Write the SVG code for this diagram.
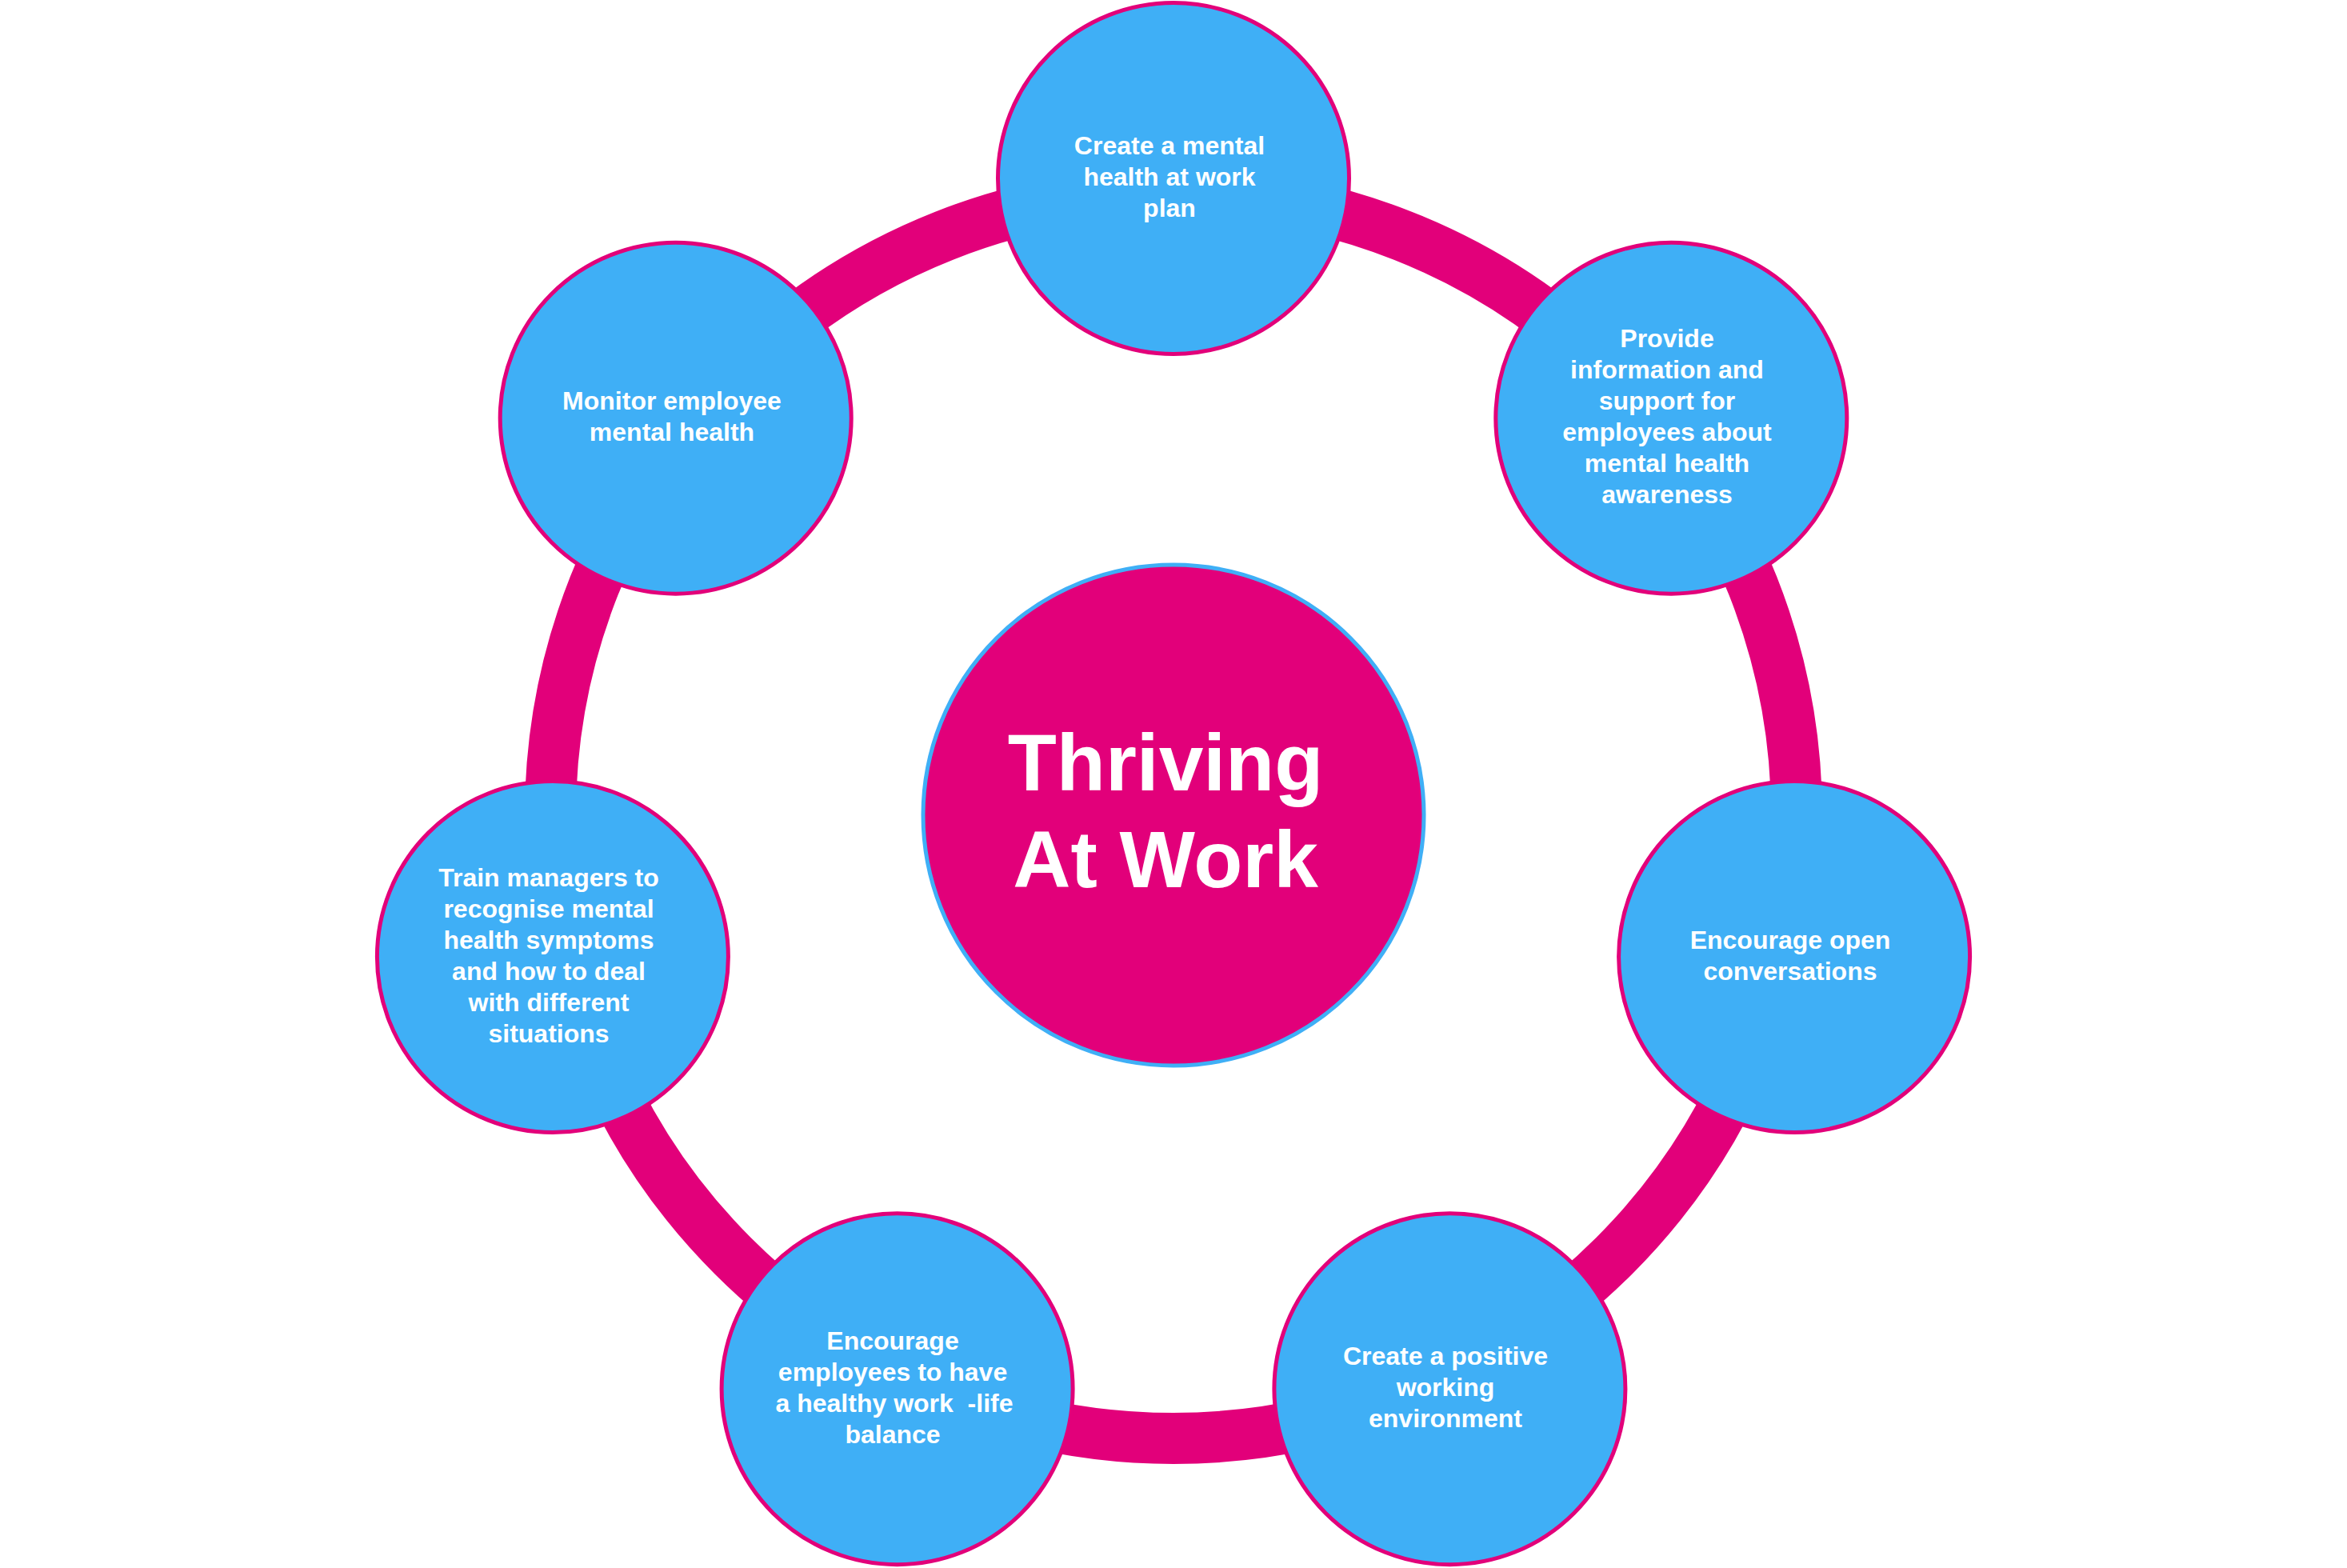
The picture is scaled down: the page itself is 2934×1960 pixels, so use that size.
<svg xmlns="http://www.w3.org/2000/svg" width="2934" height="1960" viewBox="0 0 2934 1960">
<style>
.ring{fill:none;stroke:#E2007A;stroke-width:64}
.node{fill:#3FAFF6;stroke:#E2007A;stroke-width:5}
.hub{fill:#E2007A;stroke:#3FAFF6;stroke-width:5}
.lbl{font-family:"Liberation Sans",Arial,sans-serif;font-weight:bold;font-size:32px;fill:#FFFFFF;text-anchor:middle}
.title{font-family:"Liberation Sans",Arial,sans-serif;font-weight:bold;font-size:100px;fill:#FFFFFF;text-anchor:middle}
</style>
<rect width="2934" height="1960" fill="#FFFFFF"/>
<g id="connectors">
<circle class="ring" cx="1467" cy="1019" r="779"/>
</g>
<g id="hub">
<circle class="hub" cx="1467" cy="1019" r="313"/>
<text class="title" x="1457" y="988">Thriving</text>
<text class="title" x="1457" y="1109">At Work</text>
</g>
<g id="node1">
<circle class="node" cx="1467" cy="223" r="219.5"/>
<text class="lbl" x="1462"><tspan x="1462" y="193">Create a mental</tspan><tspan x="1462" y="232">health at work</tspan><tspan x="1462" y="271">plan</tspan></text>
</g>
<g id="node2">
<circle class="node" cx="2089.3" cy="522.7" r="219.5"/>
<text class="lbl"><tspan x="2084" y="434">Provide</tspan><tspan x="2084" y="473">information and</tspan><tspan x="2084" y="512">support for</tspan><tspan x="2084" y="551">employees about</tspan><tspan x="2084" y="590">mental health</tspan><tspan x="2084" y="629">awareness</tspan></text>
</g>
<g id="node3">
<circle class="node" cx="2243.1" cy="1196.1" r="219.5"/>
<text class="lbl"><tspan x="2238" y="1186">Encourage open</tspan><tspan x="2238" y="1225">conversations</tspan></text>
</g>
<g id="node4">
<circle class="node" cx="1812.4" cy="1736.2" r="219.5"/>
<text class="lbl"><tspan x="1807" y="1706">Create a positive</tspan><tspan x="1807" y="1745">working</tspan><tspan x="1807" y="1784">environment</tspan></text>
</g>
<g id="node5">
<circle class="node" cx="1121.6" cy="1736.2" r="219.5"/>
<text class="lbl" xml:space="preserve"><tspan x="1116" y="1687">Encourage</tspan><tspan x="1116" y="1726">employees to have</tspan><tspan x="1118" y="1765">a healthy work  -life</tspan><tspan x="1116" y="1804">balance</tspan></text>
</g>
<g id="node6">
<circle class="node" cx="690.9" cy="1196.1" r="219.5"/>
<text class="lbl"><tspan x="686" y="1108">Train managers to</tspan><tspan x="686" y="1147">recognise mental</tspan><tspan x="686" y="1186">health symptoms</tspan><tspan x="686" y="1225">and how to deal</tspan><tspan x="686" y="1264">with different</tspan><tspan x="686" y="1303">situations</tspan></text>
</g>
<g id="node7">
<circle class="node" cx="844.7" cy="522.7" r="219.5"/>
<text class="lbl"><tspan x="840" y="512">Monitor employee</tspan><tspan x="840" y="551">mental health</tspan></text>
</g>
</svg>
